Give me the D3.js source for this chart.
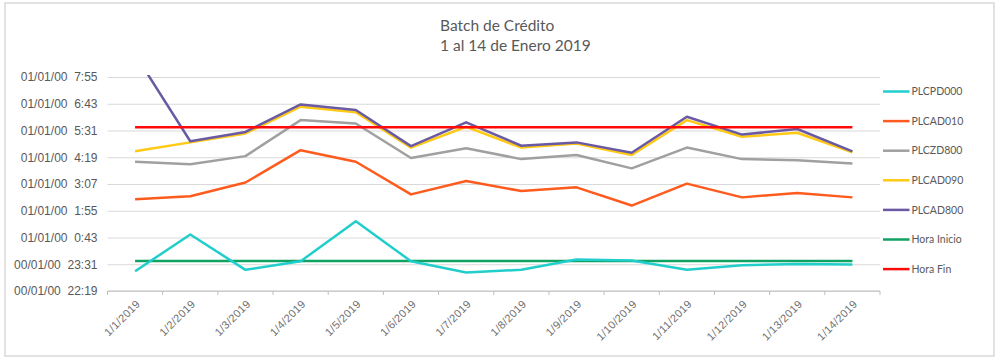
<!DOCTYPE html>
<html>
<head>
<meta charset="utf-8">
<script src="https://cdn.jsdelivr.net/npm/d3@7"></script>
<style>
  html, body { margin: 0; padding: 0; background: #fff; }
  svg { display: block; }
</style>
</head>
<body>
<svg id="chart" width="999" height="361"></svg>
<script>
// ---------- data ----------
const categories = ["1/1/2019","1/2/2019","1/3/2019","1/4/2019","1/5/2019","1/6/2019","1/7/2019",
                    "1/8/2019","1/9/2019","1/10/2019","1/11/2019","1/12/2019","1/13/2019","1/14/2019"];
// times of day; hours before 12:00 belong to the next day (01/01/00)
const PLCPD000 = ["23:12","0:51","23:16","23:39","1:27","23:39","23:09","23:16","23:44","23:41","23:16","23:28","23:32","23:30"];
const PLCAD010 = ["2:26","2:34","3:11","4:38","4:07","2:39","3:15","2:48","2:58","2:09","3:08","2:31","2:43","2:31"];
const PLCZD800 = ["4:07","4:00","4:22","5:59","5:50","4:17","4:43","4:14","4:25","3:49","4:45","4:14","4:11","4:02"];
const PLCAD090 = ["4:35","4:59","5:23","6:35","6:20","4:45","5:41","4:45","4:56","4:25","5:59","5:14","5:25","4:32"];
const PLCAD800 = ["8:56","5:02","5:27","6:41","6:26","4:49","5:53","4:50","4:59","4:31","6:08","5:20","5:35","4:35"];
const horaInicio = "23:40";
const horaFin = "5:40";
const yTickLabels = ["00/01/00  22:19","00/01/00  23:31","01/01/00  0:43","01/01/00  1:55","01/01/00  3:07",
                     "01/01/00  4:19","01/01/00  5:31","01/01/00  6:43","01/01/00  7:55"];
const seriesNames = ["PLCPD000","PLCAD010","PLCZD800","PLCAD090","PLCAD800","Hora Inicio","Hora Fin"];
const seriesColors = ["#21CECB","#FF5B1E","#A0A0A0","#FFC914","#6A5AA3","#10A263","#FF0A0A"];
const titleLines = ["Batch de Crédito","1 al 14 de Enero 2019"];

// parse "H:MM" into minutes since 00/01/00 00:00
function toMin(s) {
  const [h, m] = s.split(":").map(Number);
  return (h < 12 ? 24 + h : h) * 60 + m;
}
function labelToMin(s) {
  const parts = s.trim().split(/\s+/);
  const day = parts[0].startsWith("01") ? 1440 : 0;
  const [h, m] = parts[1].split(":").map(Number);
  return day + h * 60 + m;
}

const svg = d3.select("#chart");

// chart border
svg.append("rect").attr("x", 5).attr("y", 3).attr("width", 989).attr("height", 353)
  .attr("fill", "#fff").attr("stroke", "#d9d9d9").attr("stroke-width", 1.5);

// title
svg.selectAll("text.title").data(titleLines).join("text")
  .attr("class", "title")
  .attr("x", 440).attr("y", (d, i) => 31 + i * 20)
  .attr("font-family", "Lato, 'Open Sans', sans-serif")
  .attr("font-size", 15.5).attr("fill", "#595959")
  .text(d => d);

// scales
const yTickVals = yTickLabels.map(labelToMin);
const y = d3.scaleLinear().domain([yTickVals[0], yTickVals[yTickVals.length - 1]]).range([291, 77]);
const x = d3.scaleBand().domain(categories).range([107.5, 880]).padding(0);
const cx = d => x(d) + x.bandwidth() / 2;

// gridlines + y labels
const yAxis = d3.axisLeft(y).tickValues(yTickVals)
  .tickSize(-(x.range()[1] - x.range()[0]))
  .tickPadding(10)
  .tickFormat((d, i) => yTickLabels[i]);
const gy = svg.append("g").attr("transform", `translate(${x.range()[0]},0)`).call(yAxis);
gy.select(".domain").remove();
gy.selectAll(".tick line").attr("stroke", "#d9d9d9").attr("stroke-width", 1);
gy.selectAll(".tick text")
  .attr("font-family", "'Liberation Sans', Arial, sans-serif")
  .attr("font-size", 12).attr("fill", "#595959")
  .style("white-space", "pre");

// x axis
const gx = svg.append("g").attr("transform", `translate(0,${y.range()[0]})`);
gx.append("line").attr("x1", x.range()[0]).attr("x2", x.range()[1])
  .attr("stroke", "#bfbfbf").attr("stroke-width", 1);
const tickPos = categories.map(d => x(d)).concat([x.range()[1]]);
gx.selectAll("line.tk").data(tickPos).join("line").attr("class", "tk")
  .attr("x1", d => d).attr("x2", d => d).attr("y1", 0).attr("y2", 4)
  .attr("stroke", "#bfbfbf");
gx.selectAll("text").data(categories).join("text")
  .attr("transform", d => `translate(${cx(d) + 3},${11}) rotate(-45)`)
  .attr("text-anchor", "end").attr("dy", "0.35em")
  .attr("font-family", "'Liberation Sans', Arial, sans-serif")
  .attr("font-size", 11).attr("letter-spacing", 0.3).attr("fill", "#6f6f6f")
  .text(d => d);

// clip
svg.append("clipPath").attr("id", "plotclip").append("rect")
  .attr("x", 100).attr("y", y.range()[1] - 2).attr("width", 790).attr("height", y.range()[0] - y.range()[1] + 10);

const plot = svg.append("g").attr("clip-path", "url(#plotclip)");
const line = d3.line().x(d => cx(d.c)).y(d => y(d.v));

const seriesData = [PLCPD000, PLCAD010, PLCZD800, PLCAD090, PLCAD800,
                    categories.map(() => horaInicio), categories.map(() => horaFin)];
const drawOrder = [5, 0, 1, 2, 3, 4, 6];
drawOrder.forEach(i => {
  const pts = seriesData[i].map((s, k) => ({ c: categories[k], v: toMin(s) }));
  plot.append("path").datum(pts)
    .attr("fill", "none").attr("stroke", seriesColors[i])
    .attr("stroke-width", 2.5).attr("stroke-linejoin", "round")
    .attr("d", line);
});

// legend
const lg = svg.append("g").selectAll("g").data(seriesNames).join("g")
  .attr("transform", (d, i) => `translate(883,${91.5 + i * 29.6})`);
lg.append("line").attr("x1", 0).attr("x2", 26.5)
  .attr("stroke", (d, i) => seriesColors[i]).attr("stroke-width", 2.5);
lg.append("text").attr("x", 28.5).attr("dy", "0.35em")
  .attr("font-family", "Lato, 'Open Sans', sans-serif")
  .attr("font-size", 10.5).attr("fill", "#595959")
  .text(d => d);
</script>
</body>
</html>
